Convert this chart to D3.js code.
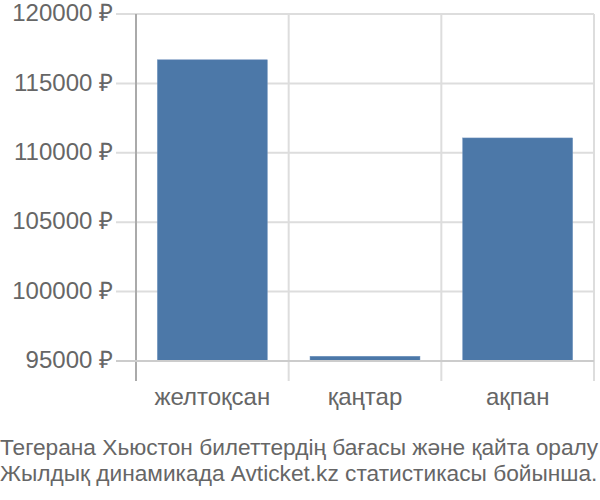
<!DOCTYPE html>
<html><head><meta charset="utf-8">
<script src="https://cdn.jsdelivr.net/npm/d3@7"></script>
<style>body{margin:0;background:#fff}svg{display:block;font-family:"Liberation Sans",Arial,sans-serif}</style>
</head><body><svg id="c" width="600" height="500"></svg>
<script>
const categories = ["желтоқсан", "қаңтар", "ақпан"];
const values = [116700, 95340, 111070];
const yTicks = [95000, 100000, 105000, 110000, 115000, 120000];
const captionLines = ["Тегерана Хьюстон билеттердің бағасы және қайта оралу", "Жылдық динамикада Avticket.kz статистикасы бойынша."];

(function(){
const svg = d3.select("#c");
const mLeft = 136, mRight = 594, mTop = 14, mBottom = 361;
const x = d3.scaleBand().domain(categories).range([mLeft, mRight]).paddingInner(0.28).paddingOuter(0.14);
const y = d3.scaleLinear().domain([95000, 120000]).range([mBottom, mTop]);

svg.append("g").selectAll("line").data(yTicks).join("line")
  .attr("x1", mLeft - 20).attr("x2", mRight).attr("y1", d => y(d)).attr("y2", d => y(d))
  .attr("stroke", "#dddddd").attr("stroke-width", 2);
const bounds = categories.map(c => x(c) - x.step()*x.paddingInner()/2).concat([mRight]);
svg.append("g").selectAll("line").data(bounds.slice(1)).join("line")
  .attr("x1", d => d).attr("x2", d => d).attr("y1", mTop).attr("y2", mBottom + 20)
  .attr("stroke", "#dddddd").attr("stroke-width", 2);

svg.append("g").selectAll("rect").data(values).join("rect")
  .attr("x", (d, i) => x(categories[i])).attr("width", x.bandwidth())
  .attr("y", d => y(d)).attr("height", d => y(95000) - y(d))
  .attr("fill", "#4c78a8").attr("stroke", "#6b8fbb").attr("stroke-width", 0.5);

svg.append("line").attr("x1", mLeft).attr("x2", mLeft).attr("y1", mTop).attr("y2", mBottom + 20)
  .attr("stroke", "#aaaaaa").attr("stroke-width", 2);
svg.append("line").attr("x1", mLeft - 20).attr("x2", mRight).attr("y1", mBottom).attr("y2", mBottom)
  .attr("stroke", "#cccccc").attr("stroke-width", 2);

svg.append("g").selectAll("text").data(yTicks).join("text")
  .attr("x", mLeft - 23).attr("y", d => y(d)).attr("dy", "0.3em")
  .attr("text-anchor", "end").attr("font-size", 24).attr("fill", "#666")
  .text(d => d + " ₽");

svg.append("g").selectAll("text").data(categories).join("text")
  .attr("x", d => x(d) + x.bandwidth()/2).attr("y", 397).attr("dy", "0.35em")
  .attr("text-anchor", "middle").attr("font-size", 24).attr("fill", "#666")
  .text(d => d);

svg.append("g").selectAll("text").data(captionLines).join("text")
  .attr("x", 0).attr("y", (d, i) => 447 + i*26.5).attr("dy", "0.35em")
  .attr("font-size", 22.7).attr("fill", "#666")
  .text(d => d);
})();
</script></body></html>
